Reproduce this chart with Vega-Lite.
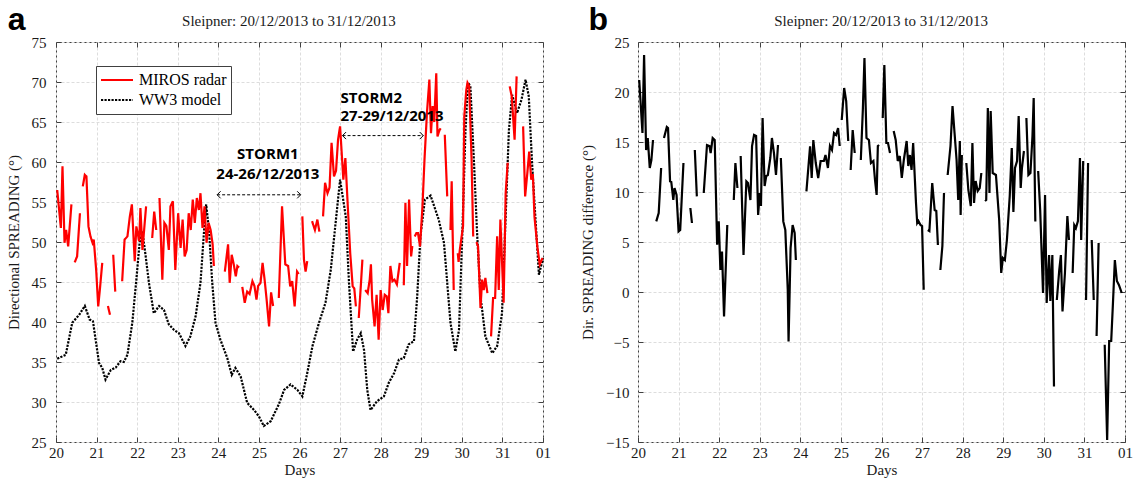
{
  "$schema": "https://vega.github.io/schema/vega-lite/v6.json",
  "padding": {"left": 5, "top": 3, "right": 5, "bottom": 1},
  "background": "white",
  "spacing": 95,
  "bounds": "flush",
  "config": {
    "font": "Liberation Serif",
    "view": {"stroke": "#404040", "strokeWidth": 1},
    "axis": {
      "labelFont": "Liberation Serif", "labelFontSize": 15, "labelColor": "#1a1a1a", "labelFlush": false,
      "titleFont": "Liberation Serif", "titleFontSize": 15, "titleFontWeight": "normal", "titleColor": "#1a1a1a",
      "domain": false, "tickColor": "#404040", "tickSize": -5,
      "gridColor": "#dddddd", "gridDash": [3, 2]
    }
  },
  "datasets": {
    "spread": [
      {"day": 20.03, "val": 35.4, "src": "WW3 model"}, {"day": 20.24, "val": 35.9, "src": "WW3 model"}, {"day": 20.40, "val": 39.9, "src": "WW3 model"}, {"day": 20.57, "val": 40.9, "src": "WW3 model"}, {"day": 20.71, "val": 42.0, "src": "WW3 model"}, {"day": 20.83, "val": 40.3, "src": "WW3 model"}, {"day": 20.91, "val": 40.1, "src": "WW3 model"}, {"day": 21.06, "val": 34.9, "src": "WW3 model"}, {"day": 21.14, "val": 34.25, "src": "WW3 model"}, {"day": 21.22, "val": 32.8, "src": "WW3 model"}, {"day": 21.35, "val": 34.0, "src": "WW3 model"}, {"day": 21.47, "val": 34.3, "src": "WW3 model"}, {"day": 21.59, "val": 35.1, "src": "WW3 model"}, {"day": 21.67, "val": 35.0, "src": "WW3 model"}, {"day": 21.76, "val": 35.9, "src": "WW3 model"}, {"day": 21.88, "val": 39.9, "src": "WW3 model"}, {"day": 21.98, "val": 45.3, "src": "WW3 model"}, {"day": 22.06, "val": 49.9, "src": "WW3 model"}, {"day": 22.13, "val": 51.3, "src": "WW3 model"}, {"day": 22.21, "val": 48.2, "src": "WW3 model"}, {"day": 22.29, "val": 44.9, "src": "WW3 model"}, {"day": 22.41, "val": 41.1, "src": "WW3 model"}, {"day": 22.54, "val": 42.0, "src": "WW3 model"}, {"day": 22.66, "val": 41.5, "src": "WW3 model"}, {"day": 22.78, "val": 39.7, "src": "WW3 model"}, {"day": 22.91, "val": 39.0, "src": "WW3 model"}, {"day": 23.03, "val": 38.6, "src": "WW3 model"}, {"day": 23.19, "val": 37.0, "src": "WW3 model"}, {"day": 23.31, "val": 38.2, "src": "WW3 model"}, {"day": 23.44, "val": 40.7, "src": "WW3 model"}, {"day": 23.56, "val": 44.9, "src": "WW3 model"}, {"day": 23.65, "val": 51.5, "src": "WW3 model"}, {"day": 23.70, "val": 54.7, "src": "WW3 model"}, {"day": 23.77, "val": 51.5, "src": "WW3 model"}, {"day": 23.85, "val": 44.9, "src": "WW3 model"}, {"day": 23.93, "val": 39.9, "src": "WW3 model"}, {"day": 24.05, "val": 37.8, "src": "WW3 model"}, {"day": 24.22, "val": 35.5, "src": "WW3 model"}, {"day": 24.33, "val": 33.4, "src": "WW3 model"}, {"day": 24.42, "val": 34.25, "src": "WW3 model"}, {"day": 24.55, "val": 33.2, "src": "WW3 model"}, {"day": 24.71, "val": 29.9, "src": "WW3 model"}, {"day": 24.88, "val": 29.0, "src": "WW3 model"}, {"day": 25.0, "val": 28.2, "src": "WW3 model"}, {"day": 25.12, "val": 27.0, "src": "WW3 model"}, {"day": 25.29, "val": 27.6, "src": "WW3 model"}, {"day": 25.49, "val": 29.7, "src": "WW3 model"}, {"day": 25.62, "val": 31.5, "src": "WW3 model"}, {"day": 25.78, "val": 32.2, "src": "WW3 model"}, {"day": 25.95, "val": 31.5, "src": "WW3 model"}, {"day": 26.07, "val": 30.7, "src": "WW3 model"}, {"day": 26.19, "val": 33.6, "src": "WW3 model"}, {"day": 26.32, "val": 37.0, "src": "WW3 model"}, {"day": 26.48, "val": 39.9, "src": "WW3 model"}, {"day": 26.64, "val": 42.4, "src": "WW3 model"}, {"day": 26.77, "val": 46.5, "src": "WW3 model"}, {"day": 26.89, "val": 52.4, "src": "WW3 model"}, {"day": 27.0, "val": 57.8, "src": "WW3 model"}, {"day": 27.14, "val": 53.2, "src": "WW3 model"}, {"day": 27.22, "val": 44.9, "src": "WW3 model"}, {"day": 27.32, "val": 36.3, "src": "WW3 model"}, {"day": 27.42, "val": 37.8, "src": "WW3 model"}, {"day": 27.51, "val": 38.6, "src": "WW3 model"}, {"day": 27.59, "val": 36.5, "src": "WW3 model"}, {"day": 27.67, "val": 31.5, "src": "WW3 model"}, {"day": 27.75, "val": 29.0, "src": "WW3 model"}, {"day": 27.91, "val": 30.1, "src": "WW3 model"}, {"day": 28.08, "val": 30.7, "src": "WW3 model"}, {"day": 28.20, "val": 32.4, "src": "WW3 model"}, {"day": 28.33, "val": 33.6, "src": "WW3 model"}, {"day": 28.45, "val": 35.3, "src": "WW3 model"}, {"day": 28.57, "val": 35.5, "src": "WW3 model"}, {"day": 28.69, "val": 37.2, "src": "WW3 model"}, {"day": 28.82, "val": 37.6, "src": "WW3 model"}, {"day": 28.90, "val": 43.2, "src": "WW3 model"}, {"day": 28.98, "val": 50.7, "src": "WW3 model"}, {"day": 29.09, "val": 55.3, "src": "WW3 model"}, {"day": 29.23, "val": 55.8, "src": "WW3 model"}, {"day": 29.35, "val": 54.0, "src": "WW3 model"}, {"day": 29.43, "val": 52.8, "src": "WW3 model"}, {"day": 29.56, "val": 49.9, "src": "WW3 model"}, {"day": 29.64, "val": 44.9, "src": "WW3 model"}, {"day": 29.72, "val": 39.9, "src": "WW3 model"}, {"day": 29.84, "val": 36.3, "src": "WW3 model"}, {"day": 29.93, "val": 39.0, "src": "WW3 model"}, {"day": 30.01, "val": 50.7, "src": "WW3 model"}, {"day": 30.09, "val": 64.0, "src": "WW3 model"}, {"day": 30.15, "val": 69.9, "src": "WW3 model"}, {"day": 30.21, "val": 69.5, "src": "WW3 model"}, {"day": 30.30, "val": 59.9, "src": "WW3 model"}, {"day": 30.38, "val": 50.7, "src": "WW3 model"}, {"day": 30.46, "val": 43.2, "src": "WW3 model"}, {"day": 30.58, "val": 38.2, "src": "WW3 model"}, {"day": 30.75, "val": 36.1, "src": "WW3 model"}, {"day": 30.87, "val": 37.0, "src": "WW3 model"}, {"day": 30.99, "val": 41.1, "src": "WW3 model"}, {"day": 31.08, "val": 53.2, "src": "WW3 model"}, {"day": 31.16, "val": 64.0, "src": "WW3 model"}, {"day": 31.24, "val": 68.4, "src": "WW3 model"}, {"day": 31.36, "val": 66.1, "src": "WW3 model"}, {"day": 31.47, "val": 67.8, "src": "WW3 model"}, {"day": 31.57, "val": 70.3, "src": "WW3 model"}, {"day": 31.65, "val": 68.2, "src": "WW3 model"}, {"day": 31.73, "val": 59.9, "src": "WW3 model"}, {"day": 31.82, "val": 52.4, "src": "WW3 model"}, {"day": 31.90, "val": 45.9, "src": "WW3 model"}, {"day": 32.0, "val": 48.0, "src": "WW3 model"},
      {"day": 20.03, "val": 56.5, "src": "MIROS radar"}, {"day": 20.12, "val": 51.75, "src": "MIROS radar"}, {"day": 20.16, "val": 59.45, "src": "MIROS radar"}, {"day": 20.21, "val": 49.9, "src": "MIROS radar"}, {"day": 20.25, "val": 51.5, "src": "MIROS radar"}, {"day": 20.30, "val": 49.45, "src": "MIROS radar"}, {"day": 20.38, "val": 54.7, "src": "MIROS radar"}, {"day": 20.42, "val": null, "src": "MIROS radar"},
      {"day": 20.46, "val": 47.45, "src": "MIROS radar"}, {"day": 20.52, "val": 48.2, "src": "MIROS radar"}, {"day": 20.59, "val": 53.6, "src": "MIROS radar"}, {"day": 20.62, "val": null, "src": "MIROS radar"},
      {"day": 20.66, "val": 56.95, "src": "MIROS radar"}, {"day": 20.71, "val": 58.4, "src": "MIROS radar"}, {"day": 20.75, "val": 58.2, "src": "MIROS radar"}, {"day": 20.80, "val": 51.95, "src": "MIROS radar"}, {"day": 20.85, "val": 50.7, "src": "MIROS radar"}, {"day": 20.90, "val": 49.9, "src": "MIROS radar"}, {"day": 20.93, "val": 50.3, "src": "MIROS radar"}, {"day": 20.99, "val": 46.5, "src": "MIROS radar"}, {"day": 21.04, "val": 41.95, "src": "MIROS radar"}, {"day": 21.08, "val": 44.0, "src": "MIROS radar"}, {"day": 21.14, "val": 47.4, "src": "MIROS radar"}, {"day": 21.2, "val": null, "src": "MIROS radar"},
      {"day": 21.28, "val": 42.0, "src": "MIROS radar"}, {"day": 21.33, "val": 40.9, "src": "MIROS radar"}, {"day": 21.37, "val": null, "src": "MIROS radar"},
      {"day": 21.41, "val": 48.4, "src": "MIROS radar"}, {"day": 21.46, "val": 43.8, "src": "MIROS radar"}, {"day": 21.55, "val": null, "src": "MIROS radar"},
      {"day": 21.63, "val": 45.1, "src": "MIROS radar"}, {"day": 21.69, "val": 50.3, "src": "MIROS radar"}, {"day": 21.76, "val": 50.7, "src": "MIROS radar"}, {"day": 21.82, "val": 53.2, "src": "MIROS radar"}, {"day": 21.87, "val": 54.7, "src": "MIROS radar"}, {"day": 21.94, "val": 47.6, "src": "MIROS radar"}, {"day": 21.98, "val": 51.95, "src": "MIROS radar"}, {"day": 22.05, "val": 50.1, "src": "MIROS radar"}, {"day": 22.08, "val": 54.25, "src": "MIROS radar"}, {"day": 22.13, "val": 49.0, "src": "MIROS radar"}, {"day": 22.22, "val": 54.45, "src": "MIROS radar"}, {"day": 22.3, "val": null, "src": "MIROS radar"},
      {"day": 22.37, "val": 50.5, "src": "MIROS radar"}, {"day": 22.42, "val": 53.8, "src": "MIROS radar"}, {"day": 22.47, "val": 51.5, "src": "MIROS radar"}, {"day": 22.51, "val": null, "src": "MIROS radar"},
      {"day": 22.55, "val": 55.5, "src": "MIROS radar"}, {"day": 22.62, "val": 45.3, "src": "MIROS radar"}, {"day": 22.67, "val": 52.4, "src": "MIROS radar"}, {"day": 22.72, "val": 52.0, "src": "MIROS radar"}, {"day": 22.78, "val": 49.0, "src": "MIROS radar"}, {"day": 22.82, "val": 54.45, "src": "MIROS radar"}, {"day": 22.88, "val": 55.1, "src": "MIROS radar"}, {"day": 22.94, "val": 46.5, "src": "MIROS radar"}, {"day": 23.01, "val": 53.6, "src": "MIROS radar"}, {"day": 23.07, "val": 49.25, "src": "MIROS radar"}, {"day": 23.12, "val": 52.8, "src": "MIROS radar"}, {"day": 23.17, "val": 48.2, "src": "MIROS radar"}, {"day": 23.22, "val": 49.0, "src": "MIROS radar"}, {"day": 23.27, "val": 53.6, "src": "MIROS radar"}, {"day": 23.32, "val": 51.5, "src": "MIROS radar"}, {"day": 23.37, "val": 55.3, "src": "MIROS radar"}, {"day": 23.42, "val": 52.4, "src": "MIROS radar"}, {"day": 23.47, "val": 55.5, "src": "MIROS radar"}, {"day": 23.52, "val": 54.0, "src": "MIROS radar"}, {"day": 23.56, "val": 56.1, "src": "MIROS radar"}, {"day": 23.61, "val": 51.75, "src": "MIROS radar"}, {"day": 23.66, "val": 54.45, "src": "MIROS radar"}, {"day": 23.71, "val": 49.9, "src": "MIROS radar"}, {"day": 23.76, "val": 52.4, "src": "MIROS radar"}, {"day": 23.81, "val": 51.5, "src": "MIROS radar"}, {"day": 23.86, "val": 49.7, "src": "MIROS radar"}, {"day": 23.89, "val": 47.0, "src": "MIROS radar"}, {"day": 24.0, "val": null, "src": "MIROS radar"},
      {"day": 24.16, "val": 46.3, "src": "MIROS radar"}, {"day": 24.24, "val": 49.7, "src": "MIROS radar"}, {"day": 24.28, "val": 44.9, "src": "MIROS radar"}, {"day": 24.33, "val": 48.4, "src": "MIROS radar"}, {"day": 24.38, "val": 47.2, "src": "MIROS radar"}, {"day": 24.43, "val": 45.7, "src": "MIROS radar"}, {"day": 24.47, "val": 47.0, "src": "MIROS radar"}, {"day": 24.51, "val": 46.8, "src": "MIROS radar"}, {"day": 24.55, "val": null, "src": "MIROS radar"},
      {"day": 24.59, "val": 44.4, "src": "MIROS radar"}, {"day": 24.65, "val": 42.4, "src": "MIROS radar"}, {"day": 24.71, "val": 43.8, "src": "MIROS radar"}, {"day": 24.77, "val": 43.5, "src": "MIROS radar"}, {"day": 24.84, "val": 45.1, "src": "MIROS radar"}, {"day": 24.89, "val": 44.5, "src": "MIROS radar"}, {"day": 24.94, "val": 42.8, "src": "MIROS radar"}, {"day": 24.98, "val": 44.5, "src": "MIROS radar"}, {"day": 25.04, "val": 44.9, "src": "MIROS radar"}, {"day": 25.09, "val": 47.4, "src": "MIROS radar"}, {"day": 25.14, "val": 45.3, "src": "MIROS radar"}, {"day": 25.19, "val": 42.8, "src": "MIROS radar"}, {"day": 25.25, "val": 39.45, "src": "MIROS radar"}, {"day": 25.30, "val": 43.7, "src": "MIROS radar"}, {"day": 25.35, "val": 42.0, "src": "MIROS radar"}, {"day": 25.42, "val": null, "src": "MIROS radar"},
      {"day": 25.49, "val": 43.0, "src": "MIROS radar"}, {"day": 25.57, "val": 54.45, "src": "MIROS radar"}, {"day": 25.65, "val": 47.2, "src": "MIROS radar"}, {"day": 25.72, "val": 47.0, "src": "MIROS radar"}, {"day": 25.77, "val": 44.45, "src": "MIROS radar"}, {"day": 25.82, "val": 45.1, "src": "MIROS radar"}, {"day": 25.88, "val": 41.95, "src": "MIROS radar"}, {"day": 25.94, "val": 46.3, "src": "MIROS radar"}, {"day": 25.98, "val": 46.0, "src": "MIROS radar"}, {"day": 26.03, "val": null, "src": "MIROS radar"},
      {"day": 26.07, "val": 53.2, "src": "MIROS radar"}, {"day": 26.11, "val": 47.8, "src": "MIROS radar"}, {"day": 26.15, "val": 46.3, "src": "MIROS radar"}, {"day": 26.19, "val": 47.6, "src": "MIROS radar"}, {"day": 26.25, "val": null, "src": "MIROS radar"},
      {"day": 26.31, "val": 52.6, "src": "MIROS radar"}, {"day": 26.38, "val": 51.5, "src": "MIROS radar"}, {"day": 26.44, "val": 52.8, "src": "MIROS radar"}, {"day": 26.49, "val": 51.3, "src": "MIROS radar"}, {"day": 26.53, "val": null, "src": "MIROS radar"},
      {"day": 26.58, "val": 53.2, "src": "MIROS radar"}, {"day": 26.63, "val": 57.4, "src": "MIROS radar"}, {"day": 26.69, "val": 56.1, "src": "MIROS radar"}, {"day": 26.74, "val": 56.8, "src": "MIROS radar"}, {"day": 26.79, "val": 62.4, "src": "MIROS radar"}, {"day": 26.85, "val": 58.2, "src": "MIROS radar"}, {"day": 26.90, "val": 58.9, "src": "MIROS radar"}, {"day": 26.95, "val": 62.8, "src": "MIROS radar"}, {"day": 27.0, "val": 64.45, "src": "MIROS radar"}, {"day": 27.08, "val": 57.8, "src": "MIROS radar"}, {"day": 27.13, "val": 60.5, "src": "MIROS radar"}, {"day": 27.19, "val": 54.45, "src": "MIROS radar"}, {"day": 27.25, "val": 48.6, "src": "MIROS radar"}, {"day": 27.31, "val": 44.45, "src": "MIROS radar"}, {"day": 27.35, "val": 44.2, "src": "MIROS radar"}, {"day": 27.39, "val": 41.95, "src": "MIROS radar"}, {"day": 27.43, "val": null, "src": "MIROS radar"},
      {"day": 27.46, "val": 40.5, "src": "MIROS radar"}, {"day": 27.51, "val": 44.45, "src": "MIROS radar"}, {"day": 27.55, "val": 47.8, "src": "MIROS radar"}, {"day": 27.58, "val": null, "src": "MIROS radar"},
      {"day": 27.62, "val": 44.0, "src": "MIROS radar"}, {"day": 27.68, "val": 43.6, "src": "MIROS radar"}, {"day": 27.73, "val": 45.3, "src": "MIROS radar"}, {"day": 27.76, "val": 47.2, "src": "MIROS radar"}, {"day": 27.79, "val": 42.8, "src": "MIROS radar"}, {"day": 27.85, "val": 39.45, "src": "MIROS radar"}, {"day": 27.90, "val": 43.4, "src": "MIROS radar"}, {"day": 27.95, "val": 37.8, "src": "MIROS radar"}, {"day": 28.0, "val": 44.0, "src": "MIROS radar"}, {"day": 28.05, "val": 41.5, "src": "MIROS radar"}, {"day": 28.10, "val": 43.4, "src": "MIROS radar"}, {"day": 28.15, "val": 43.2, "src": "MIROS radar"}, {"day": 28.19, "val": 41.1, "src": "MIROS radar"}, {"day": 28.24, "val": 47.0, "src": "MIROS radar"}, {"day": 28.29, "val": 45.1, "src": "MIROS radar"}, {"day": 28.34, "val": 45.3, "src": "MIROS radar"}, {"day": 28.40, "val": 44.7, "src": "MIROS radar"}, {"day": 28.47, "val": 47.4, "src": "MIROS radar"}, {"day": 28.52, "val": null, "src": "MIROS radar"},
      {"day": 28.57, "val": 44.6, "src": "MIROS radar"}, {"day": 28.61, "val": 54.9, "src": "MIROS radar"}, {"day": 28.65, "val": 47.0, "src": "MIROS radar"}, {"day": 28.70, "val": 55.3, "src": "MIROS radar"}, {"day": 28.75, "val": 48.2, "src": "MIROS radar"}, {"day": 28.78, "val": 49.5, "src": "MIROS radar"}, {"day": 28.81, "val": null, "src": "MIROS radar"},
      {"day": 28.84, "val": 50.7, "src": "MIROS radar"}, {"day": 28.88, "val": 51.1, "src": "MIROS radar"}, {"day": 28.92, "val": 51.1, "src": "MIROS radar"}, {"day": 28.97, "val": 49.45, "src": "MIROS radar"}, {"day": 29.03, "val": 54.45, "src": "MIROS radar"}, {"day": 29.08, "val": 60.3, "src": "MIROS radar"}, {"day": 29.14, "val": 66.1, "src": "MIROS radar"}, {"day": 29.20, "val": 70.3, "src": "MIROS radar"}, {"day": 29.24, "val": 63.6, "src": "MIROS radar"}, {"day": 29.28, "val": 67.0, "src": "MIROS radar"}, {"day": 29.32, "val": 65.0, "src": "MIROS radar"}, {"day": 29.37, "val": 71.1, "src": "MIROS radar"}, {"day": 29.40, "val": 63.2, "src": "MIROS radar"}, {"day": 29.45, "val": 64.0, "src": "MIROS radar"}, {"day": 29.48, "val": 64.2, "src": "MIROS radar"}, {"day": 29.53, "val": null, "src": "MIROS radar"},
      {"day": 29.58, "val": 63.4, "src": "MIROS radar"}, {"day": 29.64, "val": 55.7, "src": "MIROS radar"}, {"day": 29.68, "val": null, "src": "MIROS radar"},
      {"day": 29.72, "val": 51.5, "src": "MIROS radar"}, {"day": 29.75, "val": 57.6, "src": "MIROS radar"}, {"day": 29.80, "val": 44.0, "src": "MIROS radar"}, {"day": 29.85, "val": null, "src": "MIROS radar"},
      {"day": 29.90, "val": 48.6, "src": "MIROS radar"}, {"day": 29.92, "val": 47.5, "src": "MIROS radar"}, {"day": 29.95, "val": 49.0, "src": "MIROS radar"}, {"day": 30.03, "val": 52.0, "src": "MIROS radar"}, {"day": 30.06, "val": 65.7, "src": "MIROS radar"}, {"day": 30.11, "val": 69.0, "src": "MIROS radar"}, {"day": 30.14, "val": 69.9, "src": "MIROS radar"}, {"day": 30.18, "val": 69.5, "src": "MIROS radar"}, {"day": 30.24, "val": 60.3, "src": "MIROS radar"}, {"day": 30.28, "val": 50.7, "src": "MIROS radar"}, {"day": 30.32, "val": null, "src": "MIROS radar"},
      {"day": 30.36, "val": 50.0, "src": "MIROS radar"}, {"day": 30.40, "val": 49.45, "src": "MIROS radar"}, {"day": 30.46, "val": 41.75, "src": "MIROS radar"}, {"day": 30.50, "val": 45.3, "src": "MIROS radar"}, {"day": 30.54, "val": 44.0, "src": "MIROS radar"}, {"day": 30.58, "val": 45.5, "src": "MIROS radar"}, {"day": 30.63, "val": 43.6, "src": "MIROS radar"}, {"day": 30.68, "val": null, "src": "MIROS radar"},
      {"day": 30.72, "val": 38.2, "src": "MIROS radar"}, {"day": 30.77, "val": 43.0, "src": "MIROS radar"}, {"day": 30.82, "val": 43.0, "src": "MIROS radar"}, {"day": 30.87, "val": 50.7, "src": "MIROS radar"}, {"day": 30.91, "val": 44.0, "src": "MIROS radar"}, {"day": 30.95, "val": 52.8, "src": "MIROS radar"}, {"day": 31.03, "val": 42.4, "src": "MIROS radar"}, {"day": 31.08, "val": 56.1, "src": "MIROS radar"}, {"day": 31.13, "val": 59.9, "src": "MIROS radar"}, {"day": 31.155, "val": null, "src": "MIROS radar"},
      {"day": 31.18, "val": 69.45, "src": "MIROS radar"}, {"day": 31.23, "val": 68.2, "src": "MIROS radar"}, {"day": 31.30, "val": 62.8, "src": "MIROS radar"}, {"day": 31.35, "val": 70.7, "src": "MIROS radar"}, {"day": 31.43, "val": null, "src": "MIROS radar"},
      {"day": 31.51, "val": 64.45, "src": "MIROS radar"}, {"day": 31.56, "val": 55.7, "src": "MIROS radar"}, {"day": 31.61, "val": 58.4, "src": "MIROS radar"}, {"day": 31.66, "val": 61.3, "src": "MIROS radar"}, {"day": 31.71, "val": 57.8, "src": "MIROS radar"}, {"day": 31.75, "val": 58.5, "src": "MIROS radar"}, {"day": 31.79, "val": 53.2, "src": "MIROS radar"}, {"day": 31.86, "val": 49.45, "src": "MIROS radar"}, {"day": 31.92, "val": 47.2, "src": "MIROS radar"}, {"day": 31.99, "val": 48.0, "src": "MIROS radar"}
    ],
    "diff": [
      {"day": 20.03, "val": 21.2}, {"day": 20.11, "val": 15.9}, {"day": 20.15, "val": 23.7}, {"day": 20.20, "val": 14.2}, {"day": 20.24, "val": 15.4}, {"day": 20.29, "val": 12.4}, {"day": 20.33, "val": 13.2}, {"day": 20.37, "val": 15.2}, {"day": 20.41, "val": null},
      {"day": 20.45, "val": 7.06}, {"day": 20.51, "val": 7.9}, {"day": 20.57, "val": 12.4}, {"day": 20.6, "val": null},
      {"day": 20.64, "val": 15.4}, {"day": 20.71, "val": 16.5}, {"day": 20.74, "val": 16.4}, {"day": 20.79, "val": 11.06}, {"day": 20.82, "val": 11.0}, {"day": 20.87, "val": 9.2}, {"day": 20.90, "val": 10.4}, {"day": 20.95, "val": 9.7}, {"day": 21.0, "val": 6.06}, {"day": 21.04, "val": 6.2}, {"day": 21.12, "val": 12.9}, {"day": 21.2, "val": null},
      {"day": 21.29, "val": 8.4}, {"day": 21.33, "val": 6.9}, {"day": 21.37, "val": null},
      {"day": 21.40, "val": 14.2}, {"day": 21.45, "val": 9.56}, {"day": 21.55, "val": null},
      {"day": 21.62, "val": 9.9}, {"day": 21.70, "val": 14.7}, {"day": 21.76, "val": 14.6}, {"day": 21.79, "val": 13.9}, {"day": 21.84, "val": 15.4}, {"day": 21.89, "val": 15.2}, {"day": 21.95, "val": 4.73}, {"day": 21.99, "val": 7.06}, {"day": 22.03, "val": 2.2}, {"day": 22.07, "val": 4.05}, {"day": 22.12, "val": -2.44}, {"day": 22.20, "val": 6.7}, {"day": 22.28, "val": null},
      {"day": 22.36, "val": 9.2}, {"day": 22.40, "val": 12.9}, {"day": 22.45, "val": 10.4}, {"day": 22.49, "val": null},
      {"day": 22.53, "val": 13.6}, {"day": 22.60, "val": 3.7}, {"day": 22.67, "val": 11.06}, {"day": 22.71, "val": 10.9}, {"day": 22.77, "val": 9.2}, {"day": 22.81, "val": 14.6}, {"day": 22.86, "val": 15.7}, {"day": 22.91, "val": 15.6}, {"day": 22.96, "val": 7.7}, {"day": 23.0, "val": 9.9}, {"day": 23.03, "val": 8.6}, {"day": 23.07, "val": 17.4}, {"day": 23.12, "val": 10.6}, {"day": 23.16, "val": 11.6}, {"day": 23.20, "val": 11.7}, {"day": 23.26, "val": 13.4}, {"day": 23.30, "val": 15.4}, {"day": 23.35, "val": 13.9}, {"day": 23.40, "val": 11.7}, {"day": 23.45, "val": 14.7}, {"day": 23.48, "val": null},
      {"day": 23.52, "val": 13.4}, {"day": 23.58, "val": 7.06}, {"day": 23.63, "val": 6.2}, {"day": 23.69, "val": 0.23}, {"day": 23.71, "val": -4.94}, {"day": 23.76, "val": 4.4}, {"day": 23.81, "val": 6.7}, {"day": 23.86, "val": 5.9}, {"day": 23.89, "val": 3.2}, {"day": 24.0, "val": null},
      {"day": 24.15, "val": 10.06}, {"day": 24.24, "val": 14.56}, {"day": 24.28, "val": 11.4}, {"day": 24.32, "val": 15.2}, {"day": 24.38, "val": 12.9}, {"day": 24.44, "val": 11.4}, {"day": 24.50, "val": 13.1}, {"day": 24.58, "val": 13.1}, {"day": 24.62, "val": 13.7}, {"day": 24.68, "val": 12.4}, {"day": 24.73, "val": 14.6}, {"day": 24.78, "val": 14.2}, {"day": 24.83, "val": 15.9}, {"day": 24.88, "val": 15.7}, {"day": 24.93, "val": 16.4}, {"day": 24.97, "val": 14.6}, {"day": 25.0, "val": null},
      {"day": 25.02, "val": 17.2}, {"day": 25.08, "val": 20.4}, {"day": 25.13, "val": 19.1}, {"day": 25.18, "val": 15.1}, {"day": 25.21, "val": null},
      {"day": 25.24, "val": 12.2}, {"day": 25.29, "val": 16.2}, {"day": 25.34, "val": 13.9}, {"day": 25.42, "val": null},
      {"day": 25.49, "val": 13.2}, {"day": 25.54, "val": 18.2}, {"day": 25.58, "val": 23.4}, {"day": 25.63, "val": 15.4}, {"day": 25.69, "val": 15.2}, {"day": 25.74, "val": 12.9}, {"day": 25.80, "val": 13.1}, {"day": 25.84, "val": 11.2}, {"day": 25.88, "val": 9.7}, {"day": 25.91, "val": 14.6}, {"day": 25.94, "val": 14.7}, {"day": 25.99, "val": null},
      {"day": 26.03, "val": 17.4}, {"day": 26.07, "val": 22.7}, {"day": 26.12, "val": 14.9}, {"day": 26.16, "val": 14.9}, {"day": 26.21, "val": 13.9}, {"day": 26.26, "val": null},
      {"day": 26.30, "val": 16.1}, {"day": 26.35, "val": 15.2}, {"day": 26.40, "val": 13.1}, {"day": 26.45, "val": 13.6}, {"day": 26.50, "val": 11.4}, {"day": 26.55, "val": 13.2}, {"day": 26.62, "val": 15.1}, {"day": 26.66, "val": 12.6}, {"day": 26.70, "val": 13.7}, {"day": 26.74, "val": 12.2}, {"day": 26.78, "val": 14.9}, {"day": 26.85, "val": 8.9}, {"day": 26.88, "val": 6.9}, {"day": 26.91, "val": 7.1}, {"day": 26.96, "val": 6.7}, {"day": 27.0, "val": 6.6}, {"day": 27.04, "val": 0.23}, {"day": 27.09, "val": null},
      {"day": 27.14, "val": 6.2}, {"day": 27.18, "val": 6.1}, {"day": 27.25, "val": 10.9}, {"day": 27.31, "val": 8.2}, {"day": 27.35, "val": 8.1}, {"day": 27.39, "val": 4.7}, {"day": 27.42, "val": null},
      {"day": 27.45, "val": 2.2}, {"day": 27.50, "val": 4.6}, {"day": 27.54, "val": 9.9}, {"day": 27.58, "val": null},
      {"day": 27.63, "val": 11.7}, {"day": 27.70, "val": 14.6}, {"day": 27.75, "val": 18.6}, {"day": 27.80, "val": 15.9}, {"day": 27.85, "val": 13.2}, {"day": 27.89, "val": 9.2}, {"day": 27.93, "val": 15.1}, {"day": 27.95, "val": 7.7}, {"day": 27.98, "val": 13.7}, {"day": 28.04, "val": null},
      {"day": 28.09, "val": 12.9}, {"day": 28.14, "val": 10.2}, {"day": 28.20, "val": 8.6}, {"day": 28.24, "val": 14.9}, {"day": 28.28, "val": 8.9}, {"day": 28.32, "val": 11.1}, {"day": 28.37, "val": 10.1}, {"day": 28.42, "val": 10.4}, {"day": 28.46, "val": 11.9}, {"day": 28.5, "val": null},
      {"day": 28.55, "val": 9.1}, {"day": 28.58, "val": 9.2}, {"day": 28.62, "val": 18.4}, {"day": 28.66, "val": 9.9}, {"day": 28.69, "val": 18.1}, {"day": 28.74, "val": 11.9}, {"day": 28.82, "val": 11.7}, {"day": 28.90, "val": 7.2}, {"day": 28.95, "val": 1.9}, {"day": 28.99, "val": 3.4}, {"day": 29.04, "val": 3.2}, {"day": 29.09, "val": 5.2}, {"day": 29.16, "val": 9.6}, {"day": 29.21, "val": 14.4}, {"day": 29.25, "val": 8.0}, {"day": 29.29, "val": 12.4}, {"day": 29.34, "val": 13.1}, {"day": 29.38, "val": 17.6}, {"day": 29.43, "val": 10.4}, {"day": 29.46, "val": 12.4}, {"day": 29.51, "val": 14.1}, {"day": 29.54, "val": null},
      {"day": 29.57, "val": 17.4}, {"day": 29.62, "val": 11.7}, {"day": 29.67, "val": 11.9}, {"day": 29.72, "val": 15.6}, {"day": 29.75, "val": 19.4}, {"day": 29.79, "val": 7.06}, {"day": 29.82, "val": null},
      {"day": 29.86, "val": 12.1}, {"day": 29.91, "val": 8.2}, {"day": 29.98, "val": -0.1}, {"day": 30.03, "val": 9.7}, {"day": 30.07, "val": -1.1}, {"day": 30.13, "val": 3.7}, {"day": 30.16, "val": -0.9}, {"day": 30.21, "val": 3.7}, {"day": 30.25, "val": -9.44}, {"day": 30.28, "val": null},
      {"day": 30.32, "val": -0.8}, {"day": 30.38, "val": 2.2}, {"day": 30.42, "val": 3.7}, {"day": 30.46, "val": -1.94}, {"day": 30.52, "val": 1.9}, {"day": 30.58, "val": 7.6}, {"day": 30.62, "val": 5.2}, {"day": 30.66, "val": null},
      {"day": 30.71, "val": 1.9}, {"day": 30.75, "val": 6.7}, {"day": 30.79, "val": 6.4}, {"day": 30.84, "val": 7.1}, {"day": 30.89, "val": 13.4}, {"day": 30.92, "val": 5.2}, {"day": 30.97, "val": 13.1}, {"day": 31.0, "val": null},
      {"day": 31.04, "val": -0.8}, {"day": 31.09, "val": 12.9}, {"day": 31.13, "val": null},
      {"day": 31.18, "val": 5.2}, {"day": 31.23, "val": -0.8}, {"day": 31.26, "val": null},
      {"day": 31.30, "val": -4.4}, {"day": 31.35, "val": 4.9}, {"day": 31.42, "val": null},
      {"day": 31.50, "val": -5.27}, {"day": 31.56, "val": -14.8}, {"day": 31.61, "val": -4.9}, {"day": 31.66, "val": -4.9}, {"day": 31.70, "val": -1.4}, {"day": 31.75, "val": 3.2}, {"day": 31.80, "val": 1.1}, {"day": 31.85, "val": 0.7}, {"day": 31.92, "val": -0.1}
    ],
    "arrows": [
      {"x1": 23.97, "x2": 26.03, "y": 55.9},
      {"x1": 27.06, "x2": 29.05, "y": 63.3}
    ],
    "stormC": [
      {"x": 25.22, "y": 61.0, "t": "STORM1"},
      {"x": 25.22, "y": 58.55, "t": "24-26/12/2013"}
    ],
    "stormL": [
      {"x": 27.01, "y": 68.0, "t": "STORM2"},
      {"x": 27.01, "y": 65.7, "t": "27-29/12/2013"}
    ],
    "labA": [{"x": 19.03, "y": 76.5, "t": "a"}],
    "labB": [{"x": 19.02, "y": 26.2, "t": "b"}],
    "ttlA": [{"x": 25.74, "y": 77.05, "t": "Sleipner: 20/12/2013 to 31/12/2013"}],
    "ttlB": [{"x": 25.99, "y": 26.64, "t": "Sleipner: 20/12/2013 to 31/12/2013"}]
  },
  "hconcat": [
    {
      "width": 487,
      "height": 400,
      "resolve": {"axis": {"x": "independent", "y": "independent"}},
      "layer": [
        {
          "data": {"name": "spread"},
          "mark": {"type": "line", "strokeWidth": 2.2, "invalid": "break-paths-filter-domains"},
          "encoding": {
            "x": {"field": "day", "type": "quantitative", "scale": {"domain": [20, 32], "nice": false, "zero": false},
                  "axis": {"title": "Days", "values": [20,21,22,23,24,25,26,27,28,29,30,31,32], "labelExpr": "datum.value == 32 ? '01' : format(datum.value, 'd')", "labelPadding": 8, "titlePadding": 2, "grid": true}},
            "y": {"field": "val", "type": "quantitative", "scale": {"domain": [25, 75], "nice": false, "zero": false},
                  "axis": {"title": "Directional SPREADING (°)", "values": [25,30,35,40,45,50,55,60,65,70,75], "labelPadding": 15, "titlePadding": 10, "grid": true}},
            "color": {"field": "src", "type": "nominal", "scale": {"domain": ["MIROS radar", "WW3 model"], "range": ["#ff0000", "#000000"]},
                      "legend": {"title": null, "orient": "none", "legendX": 40, "legendY": 24, "symbolType": "stroke", "symbolSize": 1024, "clipHeight": 20, "symbolStrokeWidth": 2, "labelFont": "Liberation Serif", "labelFontSize": 16, "labelColor": "#000000", "strokeColor": "#404040", "fillColor": "white", "padding": 4, "rowPadding": 0, "labelOffset": 5}},
            "strokeDash": {"field": "src", "type": "nominal", "scale": {"domain": ["MIROS radar", "WW3 model"], "range": [[1, 0], [2.2, 1.3]]},
                      "legend": {"title": null, "orient": "none", "legendX": 40, "legendY": 24, "symbolType": "stroke", "symbolSize": 1024, "clipHeight": 20, "symbolStrokeWidth": 2, "labelFont": "Liberation Serif", "labelFontSize": 16, "labelColor": "#000000", "strokeColor": "#404040", "fillColor": "white", "padding": 4, "rowPadding": 0, "labelOffset": 5}}
          }
        },
        {
          "data": {"name": "arrows"},
          "mark": {"type": "rule", "color": "#000000", "strokeWidth": 1, "strokeDash": [3, 2]},
          "encoding": {
            "x": {"field": "x1", "type": "quantitative", "axis": {"orient": "top", "labels": false, "title": null, "grid": false, "values": [20,21,22,23,24,25,26,27,28,29,30,31,32]}},
            "x2": {"field": "x2"},
            "y": {"field": "y", "type": "quantitative", "axis": {"orient": "right", "labels": false, "title": null, "grid": false, "values": [25,30,35,40,45,50,55,60,65,70,75]}}
          }
        },
        {
          "data": {"name": "arrows"},
          "mark": {"type": "point", "shape": "M1,-1L0,0L1,1", "filled": false, "color": "#000000", "strokeWidth": 1, "size": 50, "opacity": 1},
          "encoding": {
            "x": {"field": "x1", "type": "quantitative", "axis": null},
            "y": {"field": "y", "type": "quantitative", "axis": null}
          }
        },
        {
          "data": {"name": "arrows"},
          "mark": {"type": "point", "shape": "M-1,-1L0,0L-1,1", "filled": false, "color": "#000000", "strokeWidth": 1, "size": 50, "opacity": 1},
          "encoding": {
            "x": {"field": "x2", "type": "quantitative", "axis": null},
            "y": {"field": "y", "type": "quantitative", "axis": null}
          }
        },
        {
          "data": {"name": "stormC"},
          "mark": {"type": "text", "font": "Open Sans", "fontWeight": "bold", "fontSize": 15, "align": "center", "baseline": "middle", "color": "#000000"},
          "encoding": {
            "x": {"field": "x", "type": "quantitative", "axis": null},
            "y": {"field": "y", "type": "quantitative", "axis": null},
            "text": {"field": "t"}
          }
        },
        {
          "data": {"name": "stormL"},
          "mark": {"type": "text", "font": "Open Sans", "fontWeight": "bold", "fontSize": 15, "align": "left", "baseline": "middle", "color": "#000000"},
          "encoding": {
            "x": {"field": "x", "type": "quantitative", "axis": null},
            "y": {"field": "y", "type": "quantitative", "axis": null},
            "text": {"field": "t"}
          }
        },
        {
          "data": {"name": "labA"},
          "mark": {"type": "text", "font": "Liberation Sans", "fontWeight": "bold", "fontSize": 32, "align": "center", "baseline": "alphabetic", "color": "#000000"},
          "encoding": {
            "x": {"field": "x", "type": "quantitative", "axis": null},
            "y": {"field": "y", "type": "quantitative", "axis": null},
            "text": {"field": "t"}
          }
        },
        {
          "data": {"name": "ttlA"},
          "mark": {"type": "text", "font": "Liberation Serif", "fontSize": 15, "align": "center", "baseline": "alphabetic", "color": "#1a1a1a"},
          "encoding": {
            "x": {"field": "x", "type": "quantitative", "axis": null},
            "y": {"field": "y", "type": "quantitative", "axis": null},
            "text": {"field": "t"}
          }
        }
      ]
    },
    {
      "width": 487,
      "height": 400,
      "resolve": {"axis": {"x": "independent", "y": "independent"}},
      "layer": [
        {
          "data": {"name": "diff"},
          "mark": {"type": "line", "strokeWidth": 2.2, "color": "#000000", "invalid": "break-paths-filter-domains"},
          "encoding": {
            "x": {"field": "day", "type": "quantitative", "scale": {"domain": [20, 32], "nice": false, "zero": false},
                  "axis": {"title": "Days", "values": [20,21,22,23,24,25,26,27,28,29,30,31,32], "labelExpr": "datum.value == 32 ? '01' : format(datum.value, 'd')", "labelPadding": 8, "titlePadding": 2, "grid": true}},
            "y": {"field": "val", "type": "quantitative", "scale": {"domain": [-15, 25], "nice": false, "zero": false},
                  "axis": {"title": "Dir. SPREADING difference (°)", "values": [-15,-10,-5,0,5,10,15,20,25], "labelPadding": 14, "titlePadding": 10, "grid": true}}
          }
        },
        {
          "data": {"name": "labB"},
          "mark": {"type": "text", "font": "Liberation Sans", "fontWeight": "bold", "fontSize": 32, "align": "center", "baseline": "alphabetic", "color": "#000000"},
          "encoding": {
            "x": {"field": "x", "type": "quantitative", "axis": {"orient": "top", "labels": false, "title": null, "grid": false, "values": [20,21,22,23,24,25,26,27,28,29,30,31,32]}},
            "y": {"field": "y", "type": "quantitative", "axis": {"orient": "right", "labels": false, "title": null, "grid": false, "values": [-15,-10,-5,0,5,10,15,20,25]}},
            "text": {"field": "t"}
          }
        },
        {
          "data": {"name": "ttlB"},
          "mark": {"type": "text", "font": "Liberation Serif", "fontSize": 15, "align": "center", "baseline": "alphabetic", "color": "#1a1a1a"},
          "encoding": {
            "x": {"field": "x", "type": "quantitative", "axis": null},
            "y": {"field": "y", "type": "quantitative", "axis": null},
            "text": {"field": "t"}
          }
        }
      ]
    }
  ]
}
